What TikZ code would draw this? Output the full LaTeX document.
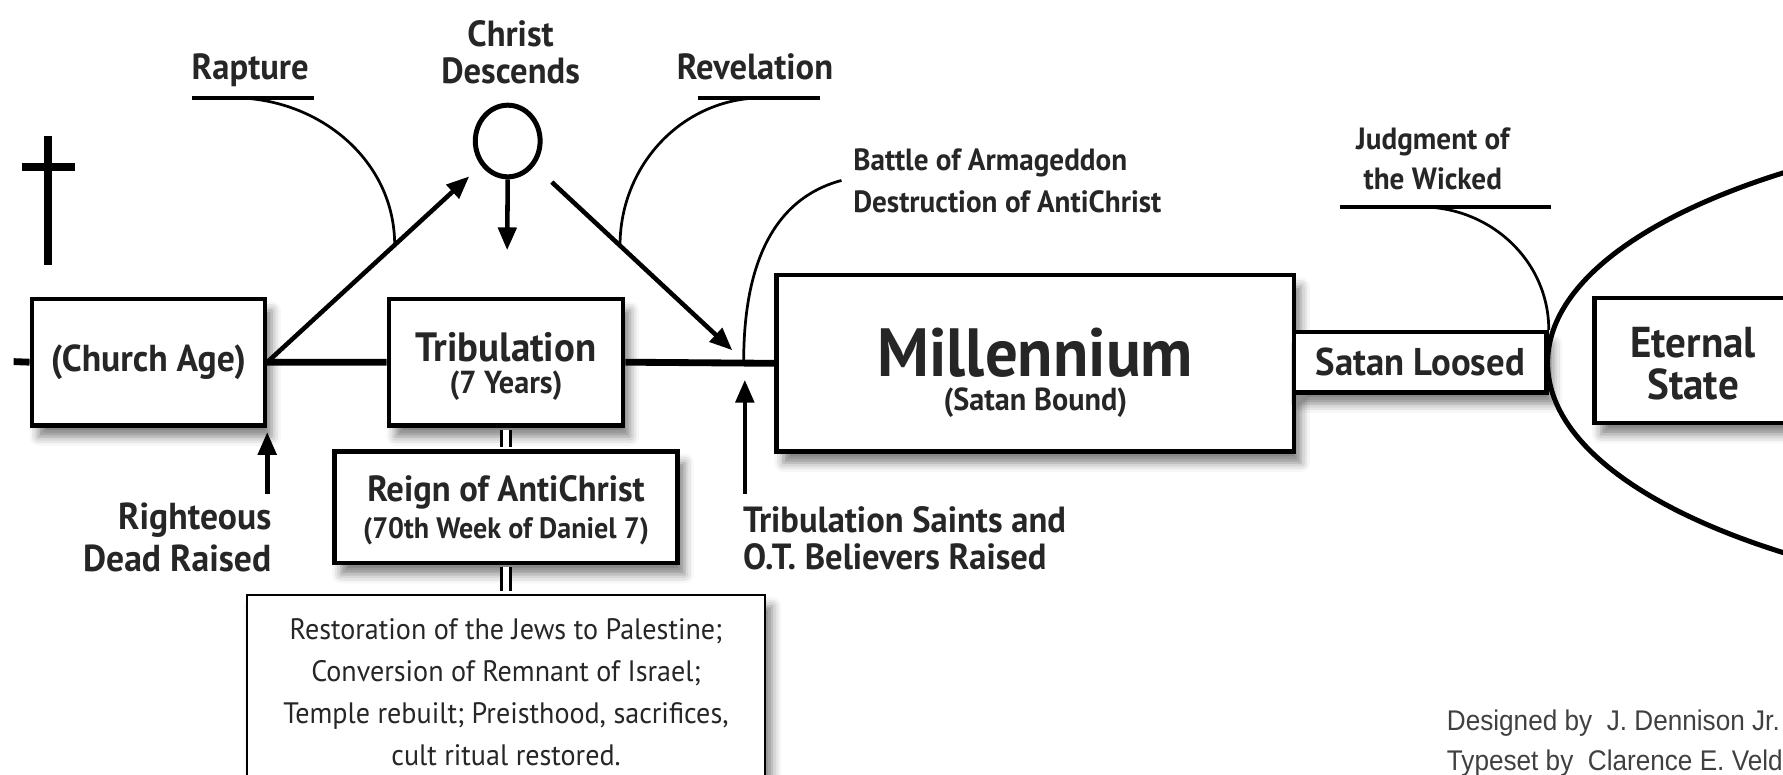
\documentclass[tikz,border=0pt]{standalone}
\usepackage{fontspec}
\setmainfont{PT Sans}[FakeStretch=0.95]
\newfontfamily\creditfont{Liberation Sans}[FakeStretch=0.92]
\usetikzlibrary{shapes.geometric,arrows.meta,calc,positioning,shadows.blur}

\begin{document}
\begin{tikzpicture}[x=0.5pt, y=-0.5pt,
    every node/.style={text=black!85, inner sep=0pt},
    box/.style={draw, line width=2pt, fill=white, align=center,
      blur shadow={shadow xshift=3pt, shadow yshift=-5pt, shadow blur radius=4pt, shadow opacity=50}},
    lbl/.style={align=center, font=\bfseries\fontsize{16}{16.5}\selectfont},
    arr/.style={line width=2pt, -{Triangle[length=10pt, width=8pt]}},
    timeline/.style={line width=3pt},
    thinline/.style={line width=1.2pt},
    bar/.style={line width=1.5pt},
    dbl/.style={double, double distance=3pt, line width=1pt, shorten <=1pt, shorten >=1pt}]
  \useasboundingbox (0,0) rectangle (1568,681);
  \clip (0,0) rectangle (1568,681);

  % cross
  \draw[line width=3.5pt] (42,120) -- (42,233) (19,147) -- (66,147);

  % eternity
  \node[ellipse, draw, line width=2.2pt, minimum width=560pt, minimum height=215pt] (eternity) at (1921,319) {};

  % boxes
  \node[box, minimum width=102.5pt, minimum height=55.5pt, font=\bfseries\fontsize{16.5}{17}\selectfont] (church) at (130.5,318.5) {(Church Age)};
  \node[box, minimum width=103pt, minimum height=55.5pt, font=\bfseries\fontsize{18}{14.25}\selectfont] (trib) at (445,318.5)
    {\rule{0pt}{16.75pt}Tribulation\\{\fontsize{14}{14.25}\selectfont(7 Years)}};
  \node[box, minimum width=227.5pt, minimum height=77.5pt, font=\bfseries\fontsize{30}{15}\selectfont] (mill) at (910.5,319.5)
    {\rule{0pt}{29.5pt}Millennium\\{\fontsize{14}{15}\selectfont(Satan Bound)}};
  \node[box, minimum width=111pt, minimum height=26.5pt, font=\bfseries\fontsize{17}{20}\selectfont] (loosed) at (1249,318.5) {Satan Loosed};
  \node[box, minimum width=87pt, minimum height=55pt, font=\bfseries\fontsize{19}{18.5}\selectfont] (eternal) at (1489,317)
    {\rule{0pt}{16.5pt}Eternal\\State};
  \node[box, minimum width=151pt, minimum height=49pt, font=\bfseries\fontsize{16}{16}\selectfont] (reign) at (445,446)
    {\rule{0pt}{14.3pt}Reign of AntiChrist\\{\fontsize{13}{16}\selectfont(70th Week of Daniel 7)}};
  \node[box, line width=1pt, minimum width=228pt, minimum height=86pt, font=\fontsize{13}{18.5}\selectfont] (restore) at (445,609)
    {Restoration of the Jews to Palestine;\\Conversion of Remnant of Israel;\\Temple rebuilt; Preisthood, sacrifices,\\cult ritual restored.};

  \draw[dbl] (trib.south) -- (reign.north);
  \draw[dbl] (reign.south) -- (restore.north);

  % time line
  \coordinate (start) at (12,318);
  \coordinate (arma) at (654,318);
  \draw[timeline] (start) -- (church.west) (church.east) -- (trib.west) (trib.east) -- (mill.west);

  % christ descends
  \node[ellipse, draw, line width=2.2pt, minimum width=28.5pt, minimum height=31.5pt] (christ) at (446.5,124) {};
  \node[lbl] (christLbl) at (449,46) {Christ\\Descends};
  \coordinate (descTip) at (446,220);
  \coordinate (revTip) at (644,308);
  \draw[arr, shorten >=7pt] (church.east) -- (christ);
  \draw[arr] (christ.south) -- (descTip);
  \draw[arr, shorten <=10.5pt] (christ) -- (revTip);

  % rapture and revelation
  \node[lbl, anchor=base] (rapture) at (220,70) {Rapture};
  \node[lbl, anchor=base] (revel) at (664,70) {Revelation};
  \draw[bar] (169,86) -- (276,86);
  \draw[bar] (614,86) -- (721,86);
  \coordinate (rapBar) at (205,86);
  \coordinate (revBar) at (671,86);
  \draw[thinline] (rapBar) to[out=0, in=90] ($(church.east)!0.53!(christ)$);
  \draw[thinline] (revBar) to[out=180, in=90] ($(christ)!0.5!(revTip)$);

  % armageddon
  \node[align=left, anchor=north west, font=\bfseries\fontsize{13.5}{18.5}\selectfont] (battle) at (750,130)
    {Battle of Armageddon\\Destruction of AntiChrist};
  \draw[thinline] ([xshift=-5pt]battle.west) to[out=195, in=90] (arma);

  % judgment
  \node[align=center, anchor=north, font=\bfseries\fontsize{13.5}{17.5}\selectfont] (judg) at (1260,112) {Judgment of\\the Wicked};
  \draw[bar] (1178,182) -- (1364,182);
  \coordinate (judBar) at (1250,182);
  \draw[thinline] (judBar) to[out=0, in=90] (loosed.north east);

  % resurrections
  \node[align=right, anchor=north east, font=\bfseries\fontsize{16.5}{18.5}\selectfont] (righteous) at (239,442) {Righteous\\Dead Raised};
  \node[align=left, anchor=north west, font=\bfseries\fontsize{16}{16.5}\selectfont] (saints) at (653,445)
    {Tribulation Saints and\\O.T. Believers Raised};
  \coordinate (rdFoot) at (235,434);
  \coordinate (tsFoot) at (655,434);
  \draw[arr, shorten >=2pt] (rdFoot) -- (rdFoot |- church.south);
  \draw[arr, shorten >=8pt] (tsFoot) -- (tsFoot |- arma);

  % credits
  \node[align=left, anchor=north west, text=black!75, font=\creditfont\fontsize{12.5}{17.5}\selectfont] (credit) at (1272,624)
    {Designed by\ \ J. Dennison Jr.\\Typeset by\ \ Clarence E. Veld};
\end{tikzpicture}
\end{document}
